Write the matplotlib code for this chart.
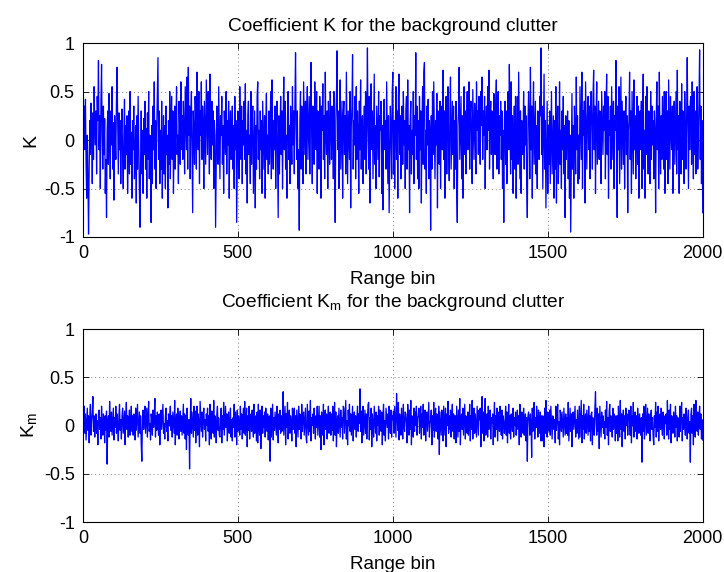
import matplotlib
matplotlib.use("Agg")
import matplotlib.pyplot as plt
import numpy as np

# --- Data (estimated from the figure, one value every 2 range bins) ---
K = [
    0.12, 0.35, -0.1, 0.42, -0.25, -0.6, 0.05, -0.4, -0.97, -0.3, 0.2, -0.15, 0.38, 0.1, -0.45, 0.28, -0.2, 0.55, 0.15, -0.05,
    0.3, -0.35, 0.45, 0.2, 0.82, -0.1, 0.25, -0.5, 0.4, 0.78, 0.05, -0.3, 0.35, -0.15, 0.22, -0.55, -0.2, -0.8, 0.1, 0.3,
    -0.25, 0.48, 0.12, -0.4, 0.3, -0.05, 0.55, -0.3, 0.18, -0.62, 0.25, 0.05, -0.2, 0.4, 0.75, 0.15, -0.35, 0.28, -0.1, 0.2,
    -0.45, 0.1, 0.32, -0.2, -0.5, 0.05, 0.42, -0.3, 0.15, -0.15, 0.25, -0.55, -0.05, 0.3, -0.35, 0.5, -0.25, 0.08, -0.6, 0.2,
    -0.1, 0.35, -0.4, -0.2, 0.15, -0.65, 0.25, -0.3, 0.45, -0.05, -0.5, -0.9, -0.2, 0.3, -0.35, 0.1, -0.55, 0.22, -0.15, 0.4,
    -0.3, 0.12, -0.6, 0.28, -0.2, 0.5, -0.4, 0.05, -0.25, -0.85, 0.15, -0.45, 0.35, -0.1, 0.6, -0.3, 0.2, -0.5, 0.1, 0.45,
    0.85, -0.2, 0.3, -0.45, 0.1, -0.3, 0.4, -0.6, -0.1, 0.25, -0.35, 0.15, -0.5, 0.35, -0.15, 0.05, -0.7, 0.2, -0.25, 0.5,
    -0.4, 0.1, 0.45, -0.2, 0.3, -0.55, -0.05, 0.35, -0.3, 0.2, 0.55, -0.15, 0.05, -0.45, 0.4, 0.15, -0.25, 0.6, -0.1, 0.25,
    -0.2, 0.4, 0.1, -0.35, 0.55, 0.2, -0.1, 0.65, -0.3, 0.75, 0.05, 0.35, -0.4, 0.25, 0.5, -0.15, -0.75, 0.3, 0.1, -0.25,
    0.45, 0.15, -0.3, 0.7, 0.2, -0.1, 0.5, -0.45, 0.3, 0.05, 0.6, -0.2, 0.35, 0.15, -0.5, 0.4, 0.1, -0.25, 0.62, 0.2,
    -0.15, 0.5, 0.25, -0.35, 0.68, 0.1, -0.2, 0.4, -0.05, 0.3, -0.5, 0.2, 0.05, -0.9, -0.3, 0.35, 0.15, -0.25, 0.55, 0.1,
    -0.4, 0.25, 0.05, 0.45, -0.25, 0.15, -0.55, 0.3, 0.1, -0.15, 0.5, -0.35, 0.2, -0.05, 0.4, -0.6, 0.15, 0.3, -0.2, 0.05,
    0.35, -0.3, 0.15, -0.5, 0.45, -0.1, 0.2, -0.85, -0.25, 0.3, 0.05, -0.4, 0.55, 0.1, -0.2, 0.35, -0.45, 0.2, -0.05, 0.4,
    -0.2, 0.58, -0.35, 0.1, -0.65, 0.25, 0.4, -0.15, 0.05, -0.45, 0.5, -0.25, 0.2, 0.35, -0.55, -0.1, 0.3, -0.7, 0.15, -0.3,
    0.45, 0.6, -0.2, 0.1, -0.4, 0.3, -0.1, 0.2, -0.55, 0.4, 0.05, -0.3, 0.25, -0.6, 0.15, 0.48, -0.2, 0.05, -0.35, 0.3,
    -0.25, 0.15, 0.5, -0.4, 0.62, 0.05, -0.3, 0.2, -0.1, 0.35, -0.5, 0.1, 0.4, -0.2, -0.8, 0.25, -0.35, 0.1, 0.45, -0.15,
    0.3, -0.5, 0.2, 0.65, -0.1, 0.4, -0.3, 0.05, -0.6, 0.25, 0.5, -0.2, 0.15, -0.45, 0.35, 0.1, -0.25, 0.55, -0.05, 0.3,
    -0.35, 0.4, 0.9, 0.15, -0.2, 0.3, -0.5, -0.1, -0.93, 0.2, 0.5, -0.3, 0.35, 0.1, -0.45, 0.6, 0.2, -0.15, 0.4, -0.35,
    0.25, 0.55, -0.2, 0.1, 0.45, -0.35, 0.3, 0.8, 0.05, -0.45, 0.35, 0.15, -0.25, 0.6, 0.2, -0.1, 0.5, -0.55, 0.3, 0.1,
    -0.3, 0.45, 0.2, -0.6, 0.35, 0.1, 0.58, -0.2, 0.25, -0.4, 0.7, 0.05, -0.15, 0.3, -0.5, 0.4, 0.15, -0.25, 0.5, 0.1,
    -0.2, 0.35, 0.1, -0.4, 0.5, -0.25, -0.85, 0.2, 0.45, 0.92, -0.1, 0.3, -0.5, 0.15, 0.62, -0.3, 0.05, 0.4, -0.6, 0.25,
    0.4, -0.15, 0.25, -0.35, 0.7, 0.1, -0.45, 0.3, 0.05, -0.2, 0.5, -0.7, 0.15, 0.35, 0.88, -0.3, 0.2, -0.05, 0.45, -0.4,
    0.55, -0.2, 0.3, 0.1, -0.55, 0.4, -0.1, 0.62, -0.3, 0.15, 0.25, -0.45, 0.05, 0.35, -0.2, 0.5, -0.35, 0.2, 0.95, 0.1,
    -0.3, 0.45, -0.65, 0.2, 0.58, -0.1, 0.3, -0.4, 0.1, 0.68, -0.25, 0.15, -0.5, 0.35, 0.05, -0.2, 0.5, -0.38, 0.25, 0.1,
    0.4, -0.55, 0.15, -0.72, 0.3, 0.42, -0.1, 0.2, -0.3, 0.6, 0.05, -0.45, 0.25, -0.75, -0.2, 0.35, 0.1, -0.4, 0.5, 0.7,
    -0.35, 0.2, -0.5, 0.1, 0.55, -0.2, 0.3, -0.6, 0.45, 0.68, -0.15, 0.25, -0.4, 0.05, 0.35, -0.25, 0.5, -0.05, 0.2, -0.5,
    0.3, 0.45, -0.3, 0.62, -0.1, 0.15, -0.75, 0.2, 0.4, -0.35, 0.1, -0.15, 0.5, -0.45, 0.25, 0.05, 0.9, -0.2, 0.35, -0.4,
    0.2, -0.5, 0.45, -0.1, 0.3, -0.65, 0.15, 0.55, -0.25, 0.7, 0.8, -0.3, 0.1, -0.55, 0.35, -0.05, 0.42, -0.4, 0.2, 0.05,
    -0.93, 0.25, -0.3, 0.5, -0.15, 0.6, 0.1, -0.4, 0.2, -0.05, 0.48, -0.7, 0.3, 0.05, -0.25, 0.4, -0.5, 0.15, 0.35, -0.1,
    0.72, -0.2, 0.3, -0.6, 0.1, 0.45, -0.35, 0.2, 0.55, -0.1, -0.42, 0.25, 0.65, -0.3, 0.05, 0.4, -0.15, 0.35, -0.5, 0.2,
    -0.3, 0.4, -0.5, -0.85, 0.15, 0.3, 0.75, -0.2, 0.1, 0.45, -0.4, 0.25, -0.6, 0.05, 0.55, -0.15, 0.3, -0.35, 0.12, 0.5,
    -0.1, 0.35, 0.6, -0.3, 0.25, 0.4, 0.05, -0.45, 0.52, 0.15, -0.2, 0.38, 0.2, -0.35, 0.6, 0.1, 0.3, -0.15, 0.45, 0.05,
    -0.25, 0.5, 0.15, 0.65, -0.2, 0.3, 0.05, 0.45, -0.5, 0.2, 0.35, -0.1, 0.55, 0.1, 0.72, -0.3, 0.25, 0.4, -0.15, 0.3,
    0.1, -0.4, 0.48, 0.2, -0.15, 0.35, 0.62, -0.3, 0.15, 0.5, -0.35, 0.25, 0.05, 0.4, -0.2, 0.3, -0.5, 0.1, -0.85, 0.2,
    0.4, -0.25, 0.3, -0.45, 0.1, 0.5, -0.1, 0.78, 0.15, -0.35, 0.6, -0.2, 0.25, -0.55, 0.05, 0.35, -0.3, 0.45, -0.6, 0.1,
    0.45, -0.25, 0.7, 0.1, -0.4, 0.3, -0.55, 0.2, 0.05, -0.15, 0.5, -0.3, 0.35, -0.05, 0.25, -0.45, -0.8, 0.15, 0.5, 0.2,
    -0.4, 0.75, -0.1, 0.35, -0.6, 0.2, 0.6, -0.25, 0.05, 0.4, -0.35, 0.15, -0.5, 0.3, 0.1, -0.2, 0.45, 0.25, 0.95, -0.15,
    0.35, -0.5, 0.1, 0.68, -0.3, 0.2, -0.7, -0.1, 0.4, -0.55, 0.15, -0.25, 0.3, -0.45, 0.05, 0.5, -0.35, -0.05, 0.25, -0.6,
    0.2, -0.3, 0.55, -0.65, 0.05, 0.35, -0.45, -0.15, 0.6, -0.25, 0.1, -0.5, 0.3, -0.1, 0.45, -0.35, 0.15, -0.8, 0.25, -0.2,
    0.1, 0.3, -0.4, 0.2, -0.6, 0.05, -0.95, -0.25, 0.48, -0.3, 0.15, -0.6, 0.35, 0.1, -0.35, 0.65, -0.1, 0.25, -0.45, 0.05,
    -0.4, 0.55, 0.2, -0.2, 0.7, -0.5, 0.3, 0.05, 0.4, -0.65, 0.6, 0.15, -0.3, 0.25, 0.45, -0.1, 0.35, -0.4, 0.2, 0.5,
    0.15, -0.3, 0.45, 0.72, -0.1, 0.35, -0.55, 0.25, 0.6, -0.25, 0.1, 0.4, -0.2, 0.3, 0.05, -0.45, 0.5, 0.15, -0.15, 0.35,
    0.1, 0.5, -0.4, 0.3, 0.68, -0.15, 0.45, -0.6, 0.2, 0.05, 0.35, -0.3, 0.55, 0.15, -0.2, 0.4, -0.5, 0.25, 0.1, 0.82,
    -0.2, -0.8, 0.35, -0.1, 0.55, -0.45, 0.12, 0.65, -0.3, 0.4, 0.05, -0.25, 0.3, -0.5, 0.2, 0.45, -0.15, 0.25, -0.75, 0.1,
    0.2, 0.7, -0.2, 0.3, -0.55, 0.5, 0.05, -0.35, 0.62, -0.1, 0.25, -0.4, 0.15, 0.45, -0.25, 0.35, -0.6, 0.1, 0.3, -0.1,
    0.4, -0.5, 0.25, 0.68, -0.3, 0.1, -0.6, 0.45, -0.15, 0.55, 0.05, -0.35, 0.3, 0.15, -0.45, 0.5, -0.2, 0.35, -0.05, 0.2,
    -0.4, 0.3, 0.1, -0.75, 0.2, 0.6, -0.1, 0.35, -0.5, 0.7, 0.05, -0.35, 0.25, -0.2, 0.45, 0.1, -0.3, 0.5, -0.55, 0.15,
    0.5, -0.2, 0.3, -0.45, 0.62, 0.15, -0.3, 0.45, 0.05, -0.1, 0.35, -0.55, 0.2, 0.4, -0.25, 0.1, 0.5, -0.35, 0.72, -0.1,
    0.25, -0.55, 0.4, 0.1, -0.35, 0.58, -0.2, 0.3, 0.15, -0.45, 0.5, 0.05, -0.3, 0.2, 0.85, 0.15, -0.5, 0.35, -0.1, 0.4,
    0.45, -0.25, 0.6, 0.05, -0.4, 0.5, -0.15, 0.3, -0.35, 0.2, 0.55, -0.3, 0.1, 0.4, 0.93, -0.2, 0.35, -0.45, 0.2, -0.75,
]

Km = [
    0.05, 0.2, -0.08, 0.12, -0.15, 0.02, 0.18, -0.05, 0.1, -0.18, 0.08, 0.22, -0.1, 0.04, 0.14, 0.3, -0.06, 0.1, -0.12, 0.02,
    0.12, -0.08, 0.05, -0.2, 0.1, 0.16, -0.04, 0.08, -0.14, 0.2, 0.0, -0.1, 0.12, 0.06, -0.18, 0.1, -0.05, 0.15, -0.4, 0.04,
    0.1, -0.12, 0.25, 0.02, -0.06, 0.14, -0.1, 0.05, 0.18, -0.15, 0.08, -0.02, 0.2, -0.08, 0.12, 0.0, -0.16, 0.1, 0.22, -0.05,
    0.06, -0.14, 0.1, 0.18, -0.08, 0.03, 0.15, -0.2, 0.08, 0.24, -0.04, 0.1, -0.12, 0.05, 0.16, -0.1, 0.02, 0.2, -0.06, 0.1,
    -0.1, 0.12, 0.04, -0.15, 0.18, -0.05, 0.08, 0.22, -0.12, 0.02, 0.14, -0.08, 0.1, -0.2, -0.37, 0.06, 0.16, -0.04, 0.1, 0.2,
    -0.08, 0.05, 0.18, -0.12, 0.1, 0.25, -0.06, 0.02, -0.15, 0.12, 0.06, -0.1, 0.16, -0.02, 0.08, 0.28, -0.12, 0.1, -0.05, 0.14,
    0.04, -0.1, 0.12, -0.2, 0.06, 0.16, -0.04, 0.1, 0.22, -0.08, 0.02, -0.14, 0.1, 0.18, -0.06, 0.05, -0.16, 0.12, 0.0, 0.08,
    0.2, -0.05, 0.1, -0.12, 0.14, 0.02, -0.08, 0.26, -0.2, 0.06, 0.12, -0.1, 0.18, 0.04, -0.14, 0.08, 0.15, -0.06, 0.1, -0.1,
    0.05, 0.22, -0.08, 0.12, -0.14, 0.1, -0.25, 0.18, 0.02, -0.1, 0.06, -0.45, 0.04, 0.28, -0.08, 0.14, 0.0, -0.12, 0.2, -0.05,
    0.15, -0.18, 0.06, 0.2, -0.1, 0.12, 0.02, -0.22, 0.25, 0.08, -0.06, 0.14, -0.12, 0.1, 0.18, -0.04, 0.06, -0.16, 0.12, 0.0,
    0.18, -0.06, 0.1, -0.2, 0.22, 0.02, -0.14, 0.15, 0.06, -0.08, 0.26, -0.12, 0.1, 0.04, -0.18, 0.12, 0.2, -0.05, 0.08, -0.1,
    -0.12, 0.05, 0.18, -0.18, 0.1, -0.04, 0.24, -0.1, 0.06, 0.2, -0.02, 0.12, -0.16, 0.08, 0.14, -0.08, 0.02, 0.18, -0.12, 0.06,
    -0.16, 0.08, -0.02, 0.22, -0.12, 0.14, 0.04, -0.2, 0.16, -0.06, 0.1, 0.02, -0.1, 0.2, -0.04, 0.12, -0.14, 0.06, 0.18, -0.08,
    0.25, -0.1, 0.02, 0.18, -0.22, 0.1, -0.05, 0.2, -0.14, 0.08, 0.12, -0.06, 0.16, 0.0, -0.12, 0.22, -0.08, 0.1, 0.04, -0.16,
    0.14, -0.18, 0.22, 0.0, -0.1, 0.16, -0.24, 0.06, 0.2, -0.08, 0.1, -0.02, 0.14, -0.12, 0.18, 0.04, -0.06, 0.12, -0.15, 0.08,
    0.1, -0.37, 0.18, -0.12, 0.04, 0.22, -0.15, 0.08, -0.05, 0.14, 0.02, -0.1, 0.2, 0.06, -0.18, 0.12, -0.04, 0.16, -0.08, 0.1,
    -0.06, 0.12, 0.35, -0.1, 0.06, 0.2, -0.2, 0.12, -0.02, 0.24, -0.14, 0.05, 0.16, -0.08, 0.1, 0.02, -0.16, 0.18, -0.04, 0.1,
    0.18, -0.08, 0.1, -0.22, 0.16, 0.02, -0.12, 0.2, -0.04, 0.12, 0.06, -0.14, 0.22, -0.06, 0.1, 0.14, -0.1, 0.04, 0.18, -0.12,
    -0.18, 0.22, 0.06, -0.1, 0.15, -0.06, 0.26, -0.16, 0.08, 0.0, 0.12, -0.08, 0.18, 0.04, -0.14, 0.1, -0.02, 0.2, -0.1, 0.06,
    0.2, -0.12, 0.1, -0.25, 0.14, 0.04, -0.1, 0.22, -0.2, 0.08, 0.16, -0.04, 0.12, -0.14, 0.06, 0.2, -0.08, 0.02, 0.14, -0.1,
    0.12, -0.05, 0.2, -0.16, 0.06, 0.24, -0.1, 0.14, -0.22, 0.02, 0.1, -0.08, 0.18, 0.04, -0.12, 0.16, -0.02, 0.08, -0.14, 0.2,
    0.18, -0.08, 0.1, 0.26, -0.14, 0.05, -0.2, 0.16, 0.0, 0.22, -0.06, 0.12, -0.1, 0.04, 0.2, -0.16, 0.08, 0.14, -0.04, 0.1,
    -0.12, 0.08, 0.2, -0.06, 0.12, 0.02, 0.38, -0.06, 0.15, -0.18, 0.1, 0.2, -0.1, 0.04, 0.16, -0.08, 0.12, -0.14, 0.06, 0.22,
    0.24, -0.15, 0.08, -0.04, 0.18, -0.22, 0.12, 0.02, -0.12, 0.2, 0.06, -0.08, 0.14, -0.16, 0.1, 0.0, 0.2, -0.1, 0.16, -0.04,
    -0.06, 0.14, -0.2, 0.1, 0.22, -0.1, 0.05, -0.16, 0.18, 0.08, -0.02, 0.12, -0.14, 0.2, 0.04, -0.08, 0.16, -0.12, 0.1, 0.06,
    0.15, -0.08, 0.2, 0.05, -0.12, 0.33, 0.1, -0.05, 0.24, -0.15, 0.12, 0.02, -0.1, 0.18, 0.06, -0.14, 0.22, 0.0, -0.06, 0.14,
    0.12, 0.02, -0.18, 0.22, 0.08, -0.1, 0.16, -0.04, 0.26, -0.2, 0.1, 0.04, -0.12, 0.18, -0.06, 0.14, 0.0, 0.2, -0.1, 0.08,
    0.1, 0.18, -0.08, 0.04, 0.2, -0.14, 0.12, -0.02, 0.22, -0.1, 0.06, 0.16, -0.16, 0.08, 0.14, -0.06, 0.1, 0.24, -0.12, 0.02,
    0.06, 0.16, -0.2, 0.1, -0.05, 0.24, -0.12, 0.08, 0.18, -0.06, 0.12, 0.02, -0.14, 0.2, -0.3, 0.14, 0.02, -0.1, 0.16, 0.04,
    -0.16, 0.2, 0.06, -0.1, 0.18, -0.22, 0.12, 0.0, 0.25, -0.08, 0.1, -0.04, 0.16, -0.12, 0.08, 0.22, -0.06, 0.12, -0.14, 0.1,
    0.1, -0.18, 0.2, 0.04, -0.12, 0.16, -0.06, 0.28, -0.2, 0.08, 0.12, -0.04, 0.18, -0.1, 0.06, 0.22, -0.14, 0.1, 0.02, -0.08,
    0.14, -0.1, 0.02, 0.22, -0.16, 0.1, -0.04, 0.26, -0.14, 0.06, 0.18, -0.08, 0.12, 0.0, -0.12, 0.2, 0.04, -0.1, 0.16, 0.06,
    0.18, -0.22, 0.1, 0.3, -0.08, 0.14, -0.16, 0.04, 0.28, -0.1, 0.06, 0.12, -0.12, 0.2, -0.04, 0.1, 0.16, -0.14, 0.08, 0.02,
    0.12, -0.2, 0.06, 0.24, -0.12, 0.1, -0.04, 0.18, -0.16, 0.08, 0.14, -0.06, 0.2, 0.02, -0.1, 0.16, -0.14, 0.1, 0.04, -0.08,
    0.02, 0.2, -0.1, 0.14, -0.18, 0.06, 0.22, -0.08, 0.1, -0.14, 0.12, 0.04, -0.06, 0.18, -0.12, 0.08, 0.0, 0.14, -0.1, 0.06,
    0.16, -0.04, 0.1, -0.2, 0.22, 0.02, -0.12, 0.14, 0.06, -0.08, 0.18, -0.1, 0.04, 0.12, -0.16, 0.08, -0.37, 0.1, 0.14, 0.06,
    -0.1, 0.12, 0.02, -0.33, 0.18, -0.06, 0.12, 0.24, -0.14, 0.08, -0.02, 0.2, 0.06, -0.12, 0.16, 0.0, -0.08, 0.14, -0.16, 0.1,
    -0.16, 0.1, 0.04, -0.22, 0.18, -0.08, 0.26, 0.0, -0.12, 0.14, 0.06, -0.06, 0.16, -0.1, 0.2, 0.02, -0.14, 0.1, 0.08, -0.04,
    0.06, -0.18, 0.2, -0.05, 0.1, 0.22, -0.14, 0.04, -0.2, 0.16, 0.1, -0.06, 0.14, 0.0, -0.12, 0.18, 0.04, -0.1, 0.12, -0.08,
    0.08, -0.1, 0.24, -0.16, 0.02, 0.18, -0.06, 0.12, -0.22, 0.1, 0.14, -0.04, 0.08, 0.2, -0.12, 0.06, -0.08, 0.16, 0.02, -0.14,
    0.2, -0.12, 0.06, 0.26, -0.18, 0.1, -0.04, 0.22, -0.14, 0.08, 0.12, -0.08, 0.16, 0.02, -0.1, 0.2, -0.06, 0.1, -0.16, 0.12,
    0.14, -0.2, 0.08, 0.02, -0.1, 0.18, 0.35, 0.02, -0.1, 0.18, -0.06, 0.12, -0.24, 0.2, 0.04, -0.12, 0.14, -0.02, 0.1, -0.08,
    0.04, -0.14, 0.16, -0.02, 0.25, -0.1, 0.08, -0.2, 0.14, 0.22, -0.06, 0.1, 0.02, -0.12, 0.18, -0.04, 0.12, 0.06, -0.16, 0.1,
    -0.08, 0.1, -0.16, 0.2, 0.02, -0.12, 0.26, -0.04, 0.12, -0.22, 0.08, 0.16, -0.06, 0.1, -0.14, 0.18, 0.0, 0.12, -0.1, 0.06,
    0.16, 0.06, -0.1, 0.2, -0.18, 0.1, 0.0, 0.24, -0.12, 0.08, 0.14, -0.06, 0.1, -0.14, 0.18, 0.02, -0.08, 0.12, 0.04, -0.1,
    0.08, -0.38, 0.12, -0.06, 0.2, -0.14, 0.08, 0.22, -0.1, 0.04, 0.18, -0.08, 0.12, 0.02, -0.16, 0.1, 0.16, -0.04, 0.08, -0.12,
    -0.2, 0.1, -0.02, 0.24, -0.12, 0.14, -0.06, 0.2, -0.16, 0.06, 0.12, -0.04, 0.18, 0.0, -0.1, 0.14, 0.06, -0.14, 0.1, 0.02,
    0.12, -0.1, 0.26, 0.0, -0.14, 0.16, -0.04, 0.22, -0.18, 0.1, 0.04, -0.08, 0.14, 0.06, -0.12, 0.2, -0.02, 0.1, -0.16, 0.08,
    0.04, -0.12, 0.2, -0.06, 0.14, 0.24, -0.16, 0.08, -0.04, 0.12, 0.02, -0.1, 0.18, 0.06, -0.14, 0.1, 0.16, -0.08, 0.04, -0.38,
    0.12, 0.18, -0.08, 0.1, -0.2, 0.22, 0.02, -0.12, 0.26, 0.06, -0.06, 0.14, -0.1, 0.08, 0.2, -0.04, 0.12, -0.14, 0.06, -0.15,
]

bins_K = np.arange(1, len(K) + 1) * 2
bins_Km = np.arange(1, len(Km) + 1) * 2
x_ticks = [0, 500, 1000, 1500, 2000]
y_ticks = [-1, -0.5, 0, 0.5, 1]
y_tick_labels = ["-1", "-0.5", "0", "0.5", "1"]

# --- Style (MATLAB look) ---
plt.rcParams['font.family'] = ['Liberation Sans', 'DejaVu Sans']
plt.rcParams['mathtext.default'] = 'regular'

fig = plt.figure(figsize=(7.24, 5.72), dpi=100)
ax1 = fig.add_axes([0.1146, 0.5857, 0.856, 0.339])
ax2 = fig.add_axes([0.1146, 0.0874, 0.856, 0.3374])

panels = [
    (ax1, bins_K, K, "Coefficient K for the background clutter", "K", 9),
    (ax2, bins_Km, Km, "Coefficient $\\mathregular{K_m}$ for the background clutter",
     "$\\mathregular{K_m}$", 16),
]

for ax, xb, vals, title, ylab, tpad in panels:
    ax.plot(xb, vals, color='#0000ff', linewidth=0.9)
    ax.set_xlim(0, 2000)
    ax.set_ylim(-1, 1)
    ax.set_xticks(x_ticks)
    ax.set_yticks(y_ticks)
    ax.set_yticklabels(y_tick_labels)
    ax.grid(True, linestyle=(0, (1, 3)), color='#808080', linewidth=0.7)
    ax.tick_params(direction='in', top=True, right=True, length=4,
                   width=0.6, labelsize=13, pad=6)
    for s in ax.spines.values():
        s.set_linewidth(0.8)
    ax.set_title(title, fontsize=13.8, pad=tpad)
    ax.set_xlabel("Range bin", fontsize=13.5, labelpad=6.5)
    ax.set_ylabel(ylab, fontsize=14, labelpad=3.5)

fig.savefig("out.png", dpi=100)
